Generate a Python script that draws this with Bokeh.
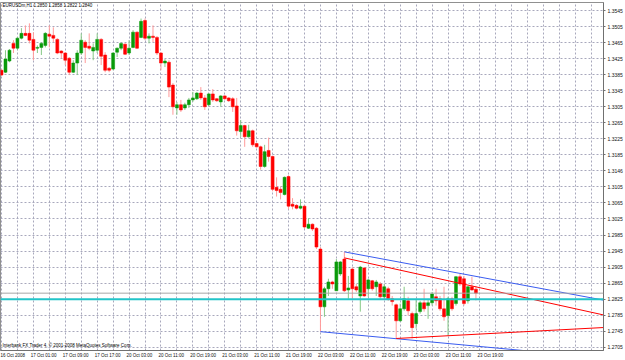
from bokeh.plotting import figure
from bokeh.models import ColumnDataSource, Range1d, FixedTicker, Label, Span
from bokeh.embed import file_html
from bokeh.resources import INLINE

# ---------------- data (EURUSDm, H1) ----------------
bar_index = list(range(120))
open_ = [1.3396, 1.3391, 1.3419, 1.3463, 1.3451, 1.3476, 1.3488, 1.3488, 1.3473, 1.3451,
         1.3453, 1.3458, 1.3486, 1.3483, 1.3473, 1.3444, 1.3439, 1.3426, 1.3391, 1.3414,
         1.3439, 1.3466, 1.3456, 1.3444, 1.3446, 1.3473, 1.3434, 1.3401, 1.3399, 1.3441,
         1.3451, 1.3461, 1.3439, 1.3453, 1.3491, 1.3478, 1.3520, 1.3476, 1.3481, 1.3478,
         1.3439, 1.3414, 1.3416, 1.3359, 1.3302, 1.3310, 1.3302, 1.3310, 1.3322, 1.3325,
         1.3339, 1.3327, 1.3310, 1.3337, 1.3325, 1.3317, 1.3332, 1.3327, 1.3325, 1.3307,
         1.3243, 1.3258, 1.3230, 1.3245, 1.3213, 1.3205, 1.3156, 1.3196, 1.3181, 1.3104,
         1.3099, 1.3086, 1.3131, 1.3062, 1.3059, 1.3052, 1.3057, 1.3002, 1.3012, 1.3002,
         1.2950, 1.2806, 1.2851, 1.2868, 1.2846, 1.2888, 1.2925, 1.2848, 1.2900, 1.2856,
         1.2833, 1.2903, 1.2851, 1.2871, 1.2856, 1.2863, 1.2831, 1.2851, 1.2826, 1.2811,
         1.2771, 1.2801, 1.2821, 1.2789, 1.2764, 1.2794, 1.2816, 1.2809, 1.2816, 1.2831,
         1.2826, 1.2801, 1.2784, 1.2826, 1.2814, 1.2881, 1.2876, 1.2821, 1.2856, 1.2850]
high = [1.3399, 1.3446, 1.3449, 1.3471, 1.3478, 1.3501, 1.3508, 1.3513, 1.3491, 1.3458,
        1.3466, 1.3491, 1.3508, 1.3503, 1.3476, 1.3446, 1.3441, 1.3429, 1.3421, 1.3446,
        1.3488, 1.3471, 1.3488, 1.3463, 1.3488, 1.3476, 1.3441, 1.3404, 1.3441, 1.3453,
        1.3466, 1.3463, 1.3471, 1.3496, 1.3493, 1.3525, 1.3525, 1.3488, 1.3508, 1.3481,
        1.3441, 1.3424, 1.3421, 1.3364, 1.3317, 1.3322, 1.3315, 1.3327, 1.3342, 1.3342,
        1.3354, 1.3334, 1.3339, 1.3349, 1.3327, 1.3334, 1.3334, 1.3329, 1.3329, 1.3327,
        1.3272, 1.3260, 1.3260, 1.3248, 1.3215, 1.3208, 1.3210, 1.3228, 1.3183, 1.3129,
        1.3106, 1.3131, 1.3134, 1.3077, 1.3062, 1.3074, 1.3059, 1.3027, 1.3014, 1.3005,
        1.2955, 1.2856, 1.2876, 1.2871, 1.2925, 1.2920, 1.2943, 1.2883, 1.2905, 1.2863,
        1.2908, 1.2905, 1.2876, 1.2873, 1.2873, 1.2868, 1.2863, 1.2856, 1.2833, 1.2814,
        1.2814, 1.2856, 1.2831, 1.2794, 1.2826, 1.2821, 1.2851, 1.2826, 1.2843, 1.2851,
        1.2833, 1.2856, 1.2831, 1.2831, 1.2883, 1.2888, 1.2883, 1.2858, 1.2881, 1.2858]
low = [1.3382, 1.3389, 1.3416, 1.3439, 1.3446, 1.3473, 1.3481, 1.3463, 1.3421, 1.3439,
       1.3434, 1.3453, 1.3453, 1.3466, 1.3436, 1.3426, 1.3409, 1.3384, 1.3389, 1.3384,
       1.3434, 1.3414, 1.3446, 1.3421, 1.3439, 1.3409, 1.3391, 1.3391, 1.3396, 1.3429,
       1.3446, 1.3434, 1.3434, 1.3451, 1.3449, 1.3476, 1.3471, 1.3463, 1.3466, 1.3434,
       1.3396, 1.3404, 1.3329, 1.3285, 1.3285, 1.3292, 1.3297, 1.3302, 1.3317, 1.3322,
       1.3322, 1.3297, 1.3307, 1.3317, 1.3317, 1.3305, 1.3322, 1.3317, 1.3292, 1.3233,
       1.3230, 1.3205, 1.3228, 1.3205, 1.3203, 1.3148, 1.3153, 1.3168, 1.3094, 1.3081,
       1.3074, 1.3084, 1.3049, 1.3049, 1.3049, 1.3049, 1.3000, 1.3000, 1.2995, 1.2950,
       1.2744, 1.2781, 1.2833, 1.2851, 1.2846, 1.2883, 1.2843, 1.2826, 1.2826, 1.2843,
       1.2794, 1.2831, 1.2831, 1.2846, 1.2833, 1.2826, 1.2826, 1.2821, 1.2809, 1.2727,
       1.2769, 1.2796, 1.2784, 1.2727, 1.2752, 1.2789, 1.2794, 1.2776, 1.2809, 1.2809,
       1.2796, 1.2771, 1.2734, 1.2796, 1.2809, 1.2858, 1.2809, 1.2814, 1.2846, 1.2822]
close = [1.3384, 1.3424, 1.3446, 1.3451, 1.3476, 1.3488, 1.3483, 1.3471, 1.3446, 1.3453,
         1.3463, 1.3488, 1.3481, 1.3476, 1.3439, 1.3439, 1.3421, 1.3391, 1.3414, 1.3439,
         1.3471, 1.3453, 1.3451, 1.3453, 1.3473, 1.3431, 1.3396, 1.3396, 1.3439, 1.3451,
         1.3463, 1.3436, 1.3451, 1.3491, 1.3451, 1.3518, 1.3476, 1.3481, 1.3478, 1.3439,
         1.3414, 1.3419, 1.3354, 1.3305, 1.3310, 1.3297, 1.3310, 1.3322, 1.3327, 1.3339,
         1.3327, 1.3305, 1.3337, 1.3322, 1.3320, 1.3332, 1.3325, 1.3320, 1.3305, 1.3245,
         1.3258, 1.3230, 1.3245, 1.3210, 1.3205, 1.3156, 1.3193, 1.3181, 1.3099, 1.3096,
         1.3091, 1.3129, 1.3057, 1.3057, 1.3052, 1.3057, 1.3005, 1.3012, 1.3000, 1.2955,
         1.2806, 1.2851, 1.2868, 1.2863, 1.2918, 1.2918, 1.2846, 1.2853, 1.2851, 1.2848,
         1.2905, 1.2833, 1.2873, 1.2851, 1.2868, 1.2831, 1.2856, 1.2826, 1.2819, 1.2771,
         1.2801, 1.2826, 1.2796, 1.2754, 1.2789, 1.2816, 1.2801, 1.2816, 1.2838, 1.2821,
         1.2801, 1.2781, 1.2826, 1.2801, 1.2881, 1.2863, 1.2814, 1.2856, 1.2848, 1.2840]

x_tick_bars = [0, 8, 16, 24, 32, 40, 48, 56, 64, 72, 80, 88, 96, 104, 112, 120]
x_tick_labels = ["16 Oct 2008", "17 Oct 01:00", "17 Oct 09:00", "17 Oct 17:00",
                 "20 Oct 03:00", "20 Oct 11:00", "20 Oct 19:00", "21 Oct 03:00",
                 "21 Oct 11:00", "21 Oct 19:00", "22 Oct 03:00", "22 Oct 11:00",
                 "22 Oct 19:00", "23 Oct 03:00", "23 Oct 11:00", "23 Oct 19:00"]
y_tick_values = [1.3545, 1.3505, 1.3465, 1.3425, 1.3385, 1.3345, 1.3305, 1.3265,
                 1.3225, 1.3185, 1.3145, 1.3105, 1.3065, 1.3025, 1.2985, 1.2945,
                 1.2905, 1.2865, 1.2825, 1.2785, 1.2745, 1.2705]
y_tick_labels = ["1.3545", "1.3505", "1.3465", "1.3425", "1.3385", "1.3345", "1.3305",
                 "1.3265", "1.3225", "1.3185", "1.3146", "1.3105", "1.3065", "1.3025",
                 "1.2985", "1.2945", "1.2905", "1.2865", "1.2825", "1.2785", "1.2745",
                 "1.2705"]

bid_price = 1.2840
level_price = 1.2825
bid_text = "1.2840"
level_text = "1.2825"
title_text = "EURUSDm,H1  1.2850 1.2858 1.2822 1.2840"
footer_text = "Interbank FX Trader 4, \u00a9 2001-2008 MetaQuotes Software Corp."

# trend lines (bar index, price)
chan_top_x = [86, 160]
chan_top_y = [1.2943, 1.2806]
resist_x = [86, 160]
resist_y = [1.2928, 1.2766]
chan_bot_x = [80, 160]
chan_bot_y = [1.2744, 1.2670]
support_x = [99, 160]
support_y = [1.2727, 1.2759]

# ---------------- figure ----------------
FONT = "Liberation Sans"
BULL, BEAR = "#0a9a0a", "#ff0000"
BULL_W, BEAR_W = "#86c886", "#ff9a9a"
LABEL_SHIFT = 2.6   # date labels start at their bar (MT4 style)

p = figure(width=625, height=360, x_range=Range1d(-0.25, 151.0),
           y_range=Range1d(1.2697, 1.3565), output_backend="svg",
           toolbar_location=None, y_axis_location="right",
           min_border_left=0, min_border_right=20, min_border_top=2,
           min_border_bottom=8, background_fill_color="white",
           border_fill_color="white", outline_line_color="#909090")

bull = [i for i in bar_index if close[i] >= open_[i]]
bear = [i for i in bar_index if close[i] < open_[i]]

def src(idx):
    return ColumnDataSource(dict(
        x=[bar_index[i] for i in idx],
        o=[open_[i] for i in idx], h=[high[i] for i in idx],
        l=[low[i] for i in idx], c=[close[i] for i in idx],
        top=[max(open_[i], close[i]) for i in idx],
        bot=[min(open_[i], close[i]) for i in idx]))

p.xgrid.ticker = FixedTicker(ticks=list(range(0, 152, 4)))
for g in (p.xgrid, p.ygrid):
    g.grid_line_color = "#a8a8bc"
    g.grid_line_dash = "2 2"
    g.grid_line_width = 1

sb, ss = src(bull), src(bear)
p.segment(x0="x", y0="l", x1="x", y1="h", source=sb, line_color=BULL_W, line_width=1)
p.segment(x0="x", y0="l", x1="x", y1="h", source=ss, line_color=BEAR_W, line_width=1)
p.vbar(x="x", top="top", bottom="bot", width=0.75, source=sb,
       fill_color=BULL, line_color=BULL, line_width=0.5)
p.vbar(x="x", top="top", bottom="bot", width=0.75, source=ss,
       fill_color=BEAR, line_color=BEAR, line_width=0.5)

p.add_layout(Span(location=bid_price, dimension="width", line_color="#a8a8a8", line_width=1))
p.add_layout(Span(location=level_price, dimension="width", line_color="#22c4c8", line_width=2))

p.line(chan_top_x, chan_top_y, line_color="#3a5cf0", line_width=1)
p.line(chan_bot_x, chan_bot_y, line_color="#3a5cf0", line_width=1)
p.line(resist_x, resist_y, line_color="#ff0000", line_width=1)
p.line(support_x, support_y, line_color="#ff0000", line_width=1)

# axes
p.yaxis.ticker = FixedTicker(ticks=y_tick_values)
p.yaxis.major_label_overrides = dict(zip(y_tick_values, y_tick_labels))
p.yaxis.major_label_text_font = FONT
p.yaxis.major_label_text_font_size = "5px"
p.yaxis.major_label_text_color = "#101010"
p.yaxis.major_label_standoff = 2
p.yaxis.major_tick_in = 0
p.yaxis.major_tick_out = 2
p.yaxis.major_tick_line_color = "#707070"
p.yaxis.minor_tick_line_color = None
p.yaxis.axis_line_color = "#707070"

label_pos = [b + LABEL_SHIFT for b in x_tick_bars]
p.xaxis.ticker = FixedTicker(ticks=label_pos)
p.xaxis.major_label_overrides = dict(zip(label_pos, x_tick_labels))
p.xaxis.major_label_text_font = FONT
p.xaxis.major_label_text_font_size = "4.5px"
p.xaxis.major_label_text_color = "#101010"
p.xaxis.major_label_standoff = 2
p.xaxis.major_tick_in = 0
p.xaxis.major_tick_out = 0
p.xaxis.major_tick_line_color = None
p.xaxis.minor_tick_line_color = None
p.xaxis.axis_line_color = "#707070"

p.add_layout(Label(x=0.25, y=1.35630, text=title_text, text_font=FONT,
                   text_font_size="4.5px", text_color="#000000", text_baseline="top"))
p.add_layout(Label(x=0.25, y=1.27094, text=footer_text, text_font=FONT,
                   text_font_size="4.5px", text_color="#000000", text_baseline="middle"))
p.add_layout(Label(x=151.2, y=bid_price, text=bid_text, text_font=FONT,
                   text_font_size="5px", text_color="white", text_baseline="middle",
                   background_fill_color="black", padding=1))
p.add_layout(Label(x=151.2, y=level_price - 0.0003, text=level_text, text_font=FONT,
                   text_font_size="5px", text_color="white", text_baseline="middle",
                   background_fill_color="#22c4c8", padding=1))

open("out.html", "w").write(file_html(p, INLINE))
